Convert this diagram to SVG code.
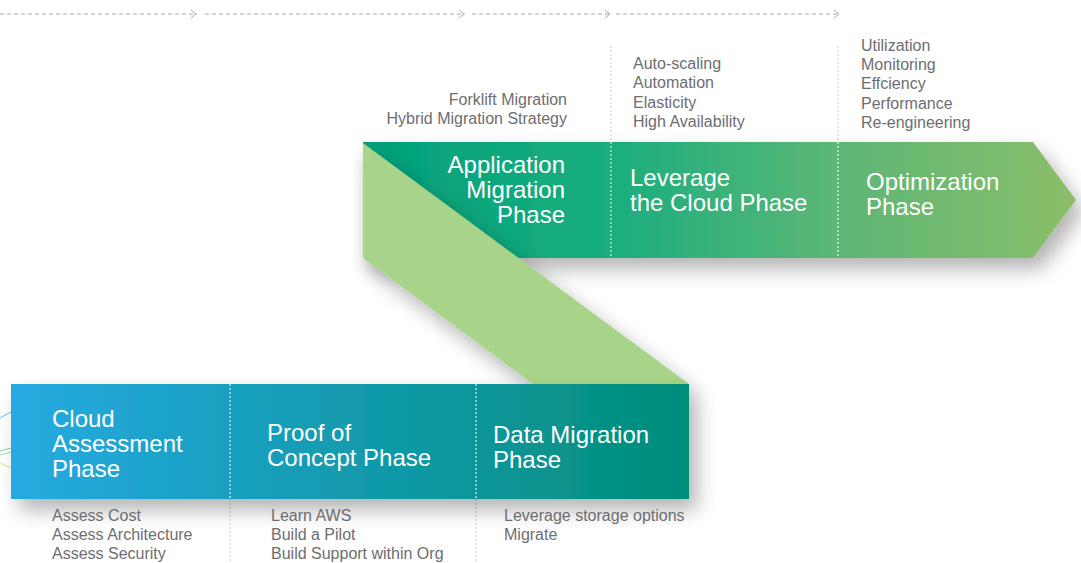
<svg xmlns="http://www.w3.org/2000/svg" width="1081" height="563" viewBox="0 0 1081 563">
<defs>
  <linearGradient id="gTop" x1="363" y1="0" x2="1076" y2="0" gradientUnits="userSpaceOnUse">
    <stop offset="0" stop-color="#00a07a"/>
    <stop offset="0.35" stop-color="#1aae7e"/>
    <stop offset="0.65" stop-color="#5ab676"/>
    <stop offset="1" stop-color="#8cbe69"/>
  </linearGradient>
  <linearGradient id="gBot" x1="11" y1="0" x2="689" y2="0" gradientUnits="userSpaceOnUse">
    <stop offset="0" stop-color="#27aae2"/>
    <stop offset="0.4" stop-color="#169db8"/>
    <stop offset="1" stop-color="#018e79"/>
  </linearGradient>
  <filter id="sh" x="-10%" y="-20%" width="130%" height="160%">
    <feGaussianBlur in="SourceAlpha" stdDeviation="10"/>
    <feOffset dx="8" dy="11" result="b"/>
    <feComponentTransfer><feFuncA type="linear" slope="0.3"/></feComponentTransfer>
    <feMerge><feMergeNode/><feMergeNode in="SourceGraphic"/></feMerge>
  </filter>
  <marker id="chev" viewBox="0 0 8 10" refX="7" refY="5" markerWidth="8" markerHeight="10" markerUnits="userSpaceOnUse" orient="auto">
    <path d="M1,1 L6,5 L1,9" fill="none" stroke="#a7a9ac" stroke-width="1"/>
  </marker>
</defs>
<style>
  .ttl{font-family:"Liberation Sans",Arial,sans-serif;font-size:24px;fill:#ffffff;}
  .sub{font-family:"Liberation Sans",Arial,sans-serif;font-size:16px;fill:#6d6e71;}
  .top{fill:none;stroke:#a7a9ac;stroke-width:1;stroke-dasharray:4 3;}
  .wd{fill:none;stroke:#ffffff;stroke-width:1.2;stroke-dasharray:2 2;opacity:0.85;}
  .gd{fill:none;stroke:#c8c9cb;stroke-width:1;stroke-dasharray:2 2;}
</style>

<g id="connectors">
  <line class="top" x1="0" y1="14" x2="197" y2="14" marker-end="url(#chev)"/>
  <line class="top" x1="205" y1="14" x2="465" y2="14" marker-end="url(#chev)"/>
  <line class="top" x1="472" y1="14" x2="611" y2="14" marker-end="url(#chev)"/>
  <line class="top" x1="616" y1="14" x2="840" y2="14" marker-end="url(#chev)"/>
  <line class="gd" x1="611" y1="46" x2="611" y2="142"/>
  <line class="gd" x1="838" y1="46" x2="838" y2="142"/>
  <line class="gd" x1="230" y1="499" x2="230" y2="563"/>
  <line class="gd" x1="476" y1="499" x2="476" y2="563"/>
  <line x1="0" y1="418" x2="11" y2="412" stroke="#7fd0f0" stroke-width="1.2"/>
  <line x1="0" y1="451" x2="11" y2="448" stroke="#8fd3a0" stroke-width="1.2"/>
  <line x1="0" y1="455" x2="11" y2="452" stroke="#a8dcb0" stroke-width="1"/>
  <line x1="0" y1="463" x2="11" y2="468" stroke="#e6ec90" stroke-width="1.2"/>
</g>

<g id="top-bar">
  <polygon points="363,142 1033,142 1076,200 1033,258 363,258" fill="url(#gTop)" filter="url(#sh)"/>
  <line class="wd" x1="611" y1="142" x2="611" y2="258"/>
  <line class="wd" x1="838" y1="142" x2="838" y2="258"/>
</g>

<g id="band">
  <polygon points="363,143 689,384 533,384 363,258" fill="#a8d48a" filter="url(#sh)"/>
</g>

<g id="app-migration">
  <text class="ttl" text-anchor="end"><tspan x="565" y="173">Application</tspan><tspan x="565" y="198">Migration</tspan><tspan x="565" y="223">Phase</tspan></text>
  <text class="sub" text-anchor="end"><tspan x="567" y="105">Forklift Migration</tspan><tspan x="567" y="124">Hybrid Migration Strategy</tspan></text>
</g>

<g id="leverage">
  <text class="ttl"><tspan x="630" y="186">Leverage</tspan><tspan x="630" y="211">the Cloud Phase</tspan></text>
  <text class="sub"><tspan x="633" y="69">Auto-scaling</tspan><tspan x="633" y="88">Automation</tspan><tspan x="633" y="108">Elasticity</tspan><tspan x="633" y="127">High Availability</tspan></text>
</g>

<g id="optimization">
  <text class="ttl"><tspan x="866" y="190">Optimization</tspan><tspan x="866" y="215">Phase</tspan></text>
  <text class="sub"><tspan x="861" y="51">Utilization</tspan><tspan x="861" y="70">Monitoring</tspan><tspan x="861" y="89">Effciency</tspan><tspan x="861" y="109">Performance</tspan><tspan x="861" y="128">Re-engineering</tspan></text>
</g>

<g id="bottom-bar">
  <rect x="11" y="384" width="678" height="115" fill="url(#gBot)" filter="url(#sh)"/>
  <line class="wd" x1="230" y1="384" x2="230" y2="499"/>
  <line class="wd" x1="476" y1="384" x2="476" y2="499"/>
</g>

<g id="cloud-assessment">
  <text class="ttl"><tspan x="52" y="427">Cloud</tspan><tspan x="52" y="452">Assessment</tspan><tspan x="52" y="477">Phase</tspan></text>
  <text class="sub"><tspan x="52" y="521">Assess Cost</tspan><tspan x="52" y="540">Assess Architecture</tspan><tspan x="52" y="559">Assess Security</tspan></text>
</g>

<g id="proof-of-concept">
  <text class="ttl"><tspan x="267" y="441">Proof of</tspan><tspan x="267" y="466">Concept Phase</tspan></text>
  <text class="sub"><tspan x="271" y="521">Learn AWS</tspan><tspan x="271" y="540">Build a Pilot</tspan><tspan x="271" y="559">Build Support within Org</tspan></text>
</g>

<g id="data-migration">
  <text class="ttl"><tspan x="493" y="443">Data Migration</tspan><tspan x="493" y="468">Phase</tspan></text>
  <text class="sub"><tspan x="504" y="521">Leverage storage options</tspan><tspan x="504" y="540">Migrate</tspan></text>
</g>
</svg>
